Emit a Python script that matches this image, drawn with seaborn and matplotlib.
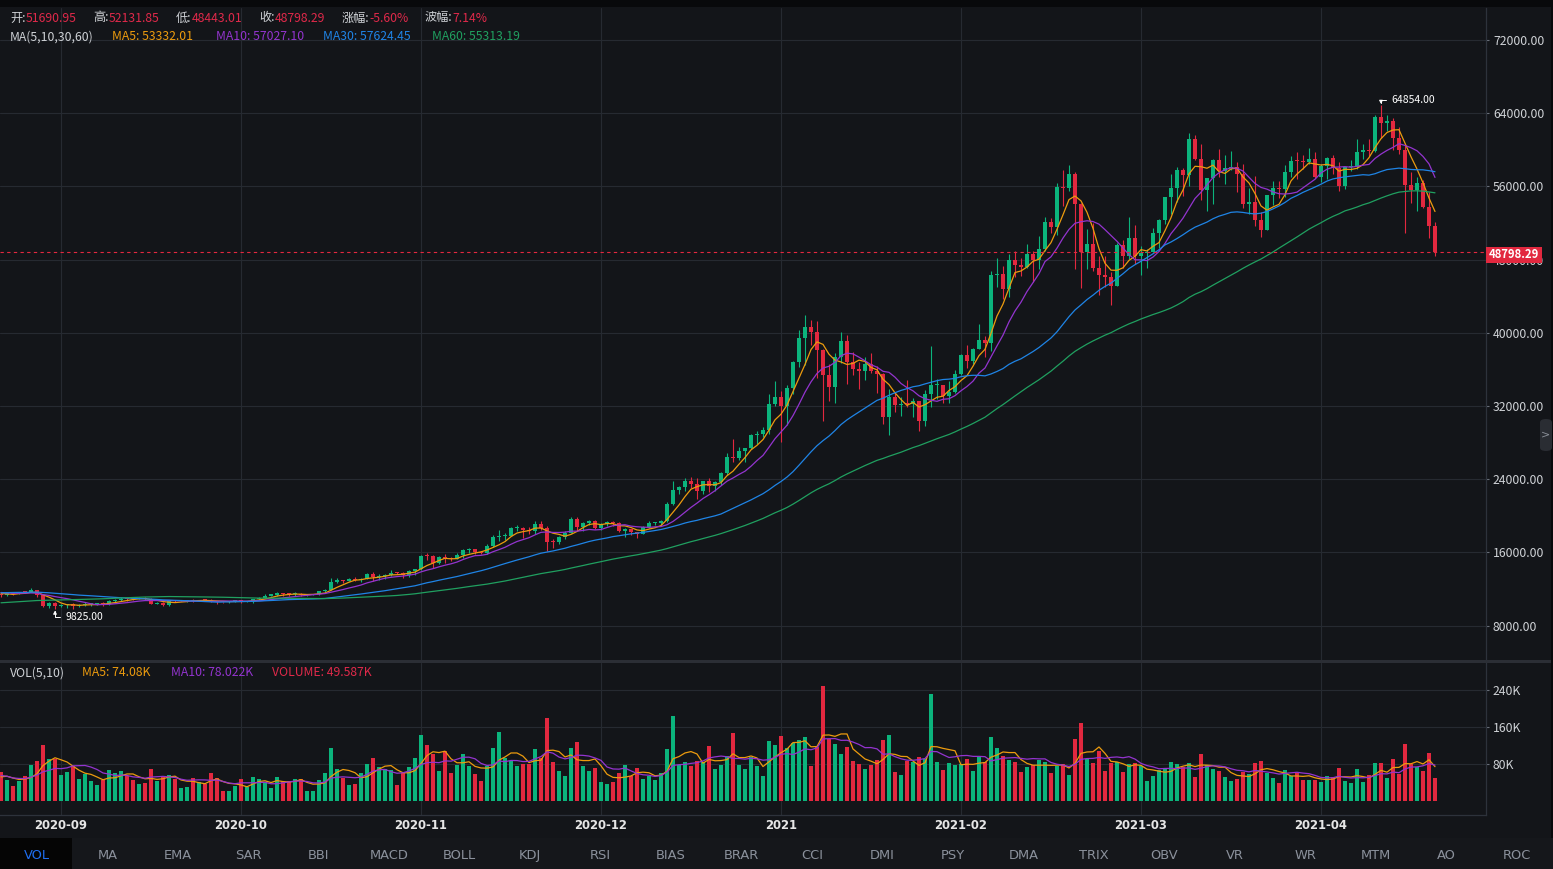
import numpy as np
import pandas as pd
import matplotlib
matplotlib.use("Agg")
import matplotlib.pyplot as plt
import seaborn as sns
from matplotlib import font_manager
from matplotlib.patches import Rectangle, FancyBboxPatch

# ---------------- data (daily candles 2020-08-27 .. 2021-04-23) ----------------
opens = [
    11467, 11323, 11530, 11470, 11706,
    11650, 11920, 11390, 10170, 10470, 10170, 10250, 10370, 10130, 10230, 10340, 10390, 10440, 10330, 10680,
    10790, 10950, 10940, 10930, 11080, 10920, 10420, 10530, 10240, 10740, 10690, 10730, 10770, 10700, 10840,
    10780, 10620, 10570, 10550, 10670, 10790, 10600, 10670, 10920, 11050, 11300, 11380, 11540, 11430, 11425, 11500,
    11320, 11370, 11500, 11750, 11910, 12820, 12980, 12930, 13120, 13030, 13070, 13650, 13280, 13460, 13560,
    13800, 13760, 13550, 14030, 14150, 15590, 15580, 14840, 15480, 15330, 15310, 15700, 16290, 16330, 16070,
    15960, 16720, 17660, 17800, 17820, 18660, 18700, 18420, 18370, 19160, 18720, 17150, 17140, 17720, 18180,
    19700, 18760, 19220, 19430, 18650, 19150, 19360, 19170, 18320, 18540, 18250, 18030, 18800, 19170, 19270, 19430,
    21340, 22800, 23140, 23850, 23470, 22720, 23820, 23240, 23730, 24690, 26490, 26280, 27040, 27370, 28890,
    28990, 29410, 32200, 33000, 31990, 33950, 36770, 39430, 40600, 40150, 38150, 35400, 34050, 37370, 39150, 36770,
    36010, 35820, 36630, 35890, 35470, 30850, 32940, 32080, 32260, 32250, 32510, 30400, 33370, 34270, 34290,
    33090, 33500, 35470, 37620, 36940, 38290, 39260, 38880, 46370, 46430, 44810, 47970, 47410, 47230,
    48590, 47930, 49130, 52120, 51550, 55910, 55840, 57410, 54090, 48890, 49680, 47070, 46280, 46110,
    45140, 49590, 48440, 50350, 48370, 48750, 48880, 50970, 52380, 54880, 55850, 57770, 57220, 61190, 59000, 55640,
    56920, 58920, 57650, 58030, 58100, 57350, 54080, 54340, 52300, 51300, 55030, 55840, 55780, 57630, 58790,
    58760, 58730, 58980, 57060, 58200, 59130, 57990, 56000, 58080, 58100, 59770, 59970, 59840, 63580, 62960,
    63160, 61330, 60000, 56150, 55630, 56430, 53790, 51690.95,
]
highs = [
    11590, 11595, 11583, 11720, 11770,
    12067, 11950, 11460, 10630, 10570, 10350, 10400, 10440, 10350, 10580, 10400, 10480, 10580, 10800, 10940,
    11100, 11050, 11040, 11180, 11090, 10990, 10580, 10560, 10790, 10760, 10770, 10800, 10950, 10860, 10860,
    10950, 10660, 10600, 10690, 10800, 10800, 10690, 10950, 11100, 11490, 11440, 11700, 11560, 11550, 11630, 11540,
    11400, 11500, 11820, 12030, 13220, 13190, 13030, 13170, 13350, 13250, 13790, 13860, 13640, 13690, 14100,
    13900, 13830, 14070, 14250, 15770, 15970, 15770, 15650, 15840, 15480, 15970, 16340, 16480, 16330, 16140,
    16880, 17860, 18480, 18180, 18820, 18960, 18750, 18770, 19420, 19480, 18920, 17460, 17850, 18340, 19860,
    19920, 19340, 19530, 19500, 19200, 19420, 19390, 19290, 18640, 18560, 18290, 18950, 19410, 19350, 19570, 21560,
    23800, 23280, 24170, 24300, 24100, 23840, 24100, 23770, 24790, 26870, 28420, 27500, 27400, 28990, 29300,
    29680, 33300, 34780, 33600, 34360, 36940, 40370, 41950, 41380, 41350, 38260, 36630, 37850, 40100, 39750, 37950,
    36850, 37400, 37850, 36420, 35600, 33830, 33460, 32940, 34880, 32920, 32560, 33780, 38530, 34930, 34350,
    34720, 35900, 37660, 38710, 38310, 40950, 39700, 46790, 48200, 47310, 48630, 48980, 48140, 49710,
    49000, 50620, 52620, 52530, 56370, 57770, 58350, 57530, 54180, 51370, 52040, 48390, 48390, 46640,
    49790, 50200, 52640, 51770, 49450, 49200, 51450, 52400, 54900, 57390, 58150, 58060, 61840, 61600, 60630, 56940,
    58980, 60100, 59450, 59880, 58640, 58430, 55840, 57200, 53240, 55100, 56640, 56560, 58400, 59370, 59800,
    59490, 60200, 59790, 58500, 59250, 59470, 58650, 58160, 58880, 61220, 60690, 61200, 63770, 64854, 63820,
    63520, 62500, 60500, 57530, 57060, 56760, 55410, 52131.85,
]
lows = [
    11135, 11283, 11404, 11457, 11570,
    11640, 11160, 10000, 9960, 9825, 10000, 9880, 9850, 10000, 10200, 10200, 10260, 10200, 10220, 10630,
    10670, 10740, 10820, 10890, 10810, 10370, 10360, 10140, 10200, 10600, 10650, 10620, 10630, 10650, 10680,
    10540, 10380, 10500, 10530, 10630, 10530, 10560, 10530, 10830, 11050, 11250, 11200, 11300, 11280, 11270, 11220,
    11300, 11350, 11400, 11690, 11900, 12700, 12720, 12880, 12890, 12780, 13050, 12900, 12990, 13110, 13420,
    13620, 13200, 13290, 13530, 14100, 15170, 14340, 14700, 14810, 15080, 15280, 15440, 15980, 15800, 15860,
    15870, 16560, 17220, 17350, 17760, 18320, 17610, 18000, 18020, 18500, 16190, 16500, 16880, 17520, 18180,
    18320, 18330, 18970, 18570, 18500, 18860, 18900, 18200, 17650, 17910, 17570, 18020, 18710, 19000, 19050, 19290,
    21230, 22350, 22750, 23060, 21820, 22350, 22600, 22700, 23430, 24500, 25860, 26100, 25880, 27320, 27850,
    28620, 28950, 32000, 28130, 29900, 33290, 36300, 36500, 38720, 35110, 30420, 32530, 32380, 36700, 34410, 35360,
    33850, 34800, 35600, 33400, 30070, 28850, 31390, 30900, 31910, 30840, 29240, 29840, 31920, 32830, 32300,
    32300, 33420, 35370, 36160, 36570, 38220, 37350, 37990, 45000, 43730, 43950, 46130, 46200, 47050,
    45570, 47000, 48950, 50900, 50710, 53860, 55480, 46930, 44890, 47000, 46800, 44110, 45000, 43000,
    45110, 47050, 48100, 47500, 46300, 47070, 48800, 49330, 51850, 53000, 54270, 54960, 56080, 58900, 54570, 53270,
    54120, 57000, 56270, 57820, 55450, 53650, 53000, 51700, 50430, 51230, 53960, 54690, 54900, 57020, 56770,
    57940, 58430, 56960, 56500, 56800, 57350, 55470, 55700, 57680, 57870, 59000, 59370, 59800, 61300, 62020,
    60000, 59580, 50930, 54220, 53330, 53600, 50400, 48443.01,
]
closes = [
    11323, 11530, 11470, 11706, 11650,
    11920, 11390, 10170, 10470, 10170, 10250, 10370, 10130, 10230, 10340, 10390, 10440, 10330, 10680, 10790,
    10950, 10940, 10930, 11080, 10920, 10420, 10530, 10240, 10740, 10690, 10730, 10770, 10700, 10840, 10780,
    10620, 10570, 10550, 10670, 10790, 10600, 10670, 10920, 11050, 11300, 11380, 11540, 11430, 11425, 11500, 11320,
    11370, 11500, 11750, 11910, 12820, 12980, 12930, 13120, 13030, 13070, 13650, 13280, 13460, 13560, 13800,
    13760, 13550, 14030, 14150, 15590, 15580, 14840, 15480, 15330, 15310, 15700, 16290, 16330, 16070, 15960,
    16720, 17660, 17800, 17820, 18660, 18700, 18420, 18370, 19160, 18720, 17150, 17140, 17720, 18180, 19700,
    18760, 19220, 19430, 18650, 19150, 19360, 19170, 18320, 18540, 18250, 18030, 18800, 19170, 19270, 19430, 21340,
    22800, 23140, 23850, 23470, 22720, 23820, 23240, 23730, 24690, 26490, 26280, 27040, 27370, 28890, 28990,
    29410, 32200, 33000, 31990, 33950, 36770, 39430, 40600, 40150, 38150, 35400, 34050, 37370, 39150, 36770, 36010,
    35820, 36630, 35890, 35470, 30850, 32940, 32080, 32260, 32250, 32510, 30400, 33370, 34270, 34290, 33090,
    33500, 35470, 37620, 36940, 38290, 39260, 38880, 46370, 46430, 44810, 47970, 47410, 47230, 48590,
    47930, 49130, 52120, 51550, 55910, 55840, 57410, 54090, 48890, 49680, 47070, 46280, 46110, 45140,
    49590, 48440, 50350, 48370, 48750, 48880, 50970, 52380, 54880, 55850, 57770, 57220, 61190, 59000, 55640, 56920,
    58920, 57650, 58030, 58100, 57350, 54080, 54340, 52300, 51300, 55030, 55840, 55780, 57630, 58790, 58760,
    58730, 58980, 57060, 58200, 59130, 57990, 56000, 58080, 58100, 59770, 59970, 59840, 63580, 62960, 63160,
    61330, 60000, 56150, 55630, 56430, 53790, 51690, 48798.29,
]
# volume in thousands
volumes = [
    62.7, 46.1, 33.2, 44.0, 54.8, 78.6, 87.2, 121.8, 91.5, 91.5,
    56.9, 63.4, 76.4, 48.3, 59.1, 44.0, 35.3, 46.1, 67.7, 61.3,
    65.6, 54.8, 46.1, 37.5, 39.6, 69.9, 44.0, 52.6, 56.9, 48.3,
    28.8, 31.0, 51.2, 41.8, 37.5, 61.3, 50.4, 22.3, 22.3, 33.2,
    48.3, 31.0, 52.6, 48.3, 41.8, 28.8, 52.6, 41.8, 44.0, 48.3,
    48.3, 22.3, 22.3, 46.1, 61.3, 115.3, 69.9, 51.2, 35.3, 37.5,
    61.3, 80.7, 93.7, 74.2, 69.9, 67.7, 35.3, 61.3, 74.2, 93.7,
    143.4, 121.8, 102.3, 65.6, 108.8, 61.3, 78.6, 102.3, 76.4, 59.1,
    44.0, 76.4, 115.3, 149.9, 93.7, 87.2, 76.4, 80.7, 80.7, 113.2,
    93.7, 180.2, 85.0, 65.6, 54.8, 115.3, 128.3, 76.4, 65.6, 72.1,
    41.8, 37.5, 41.8, 61.3, 78.6, 54.8, 72.1, 48.3, 54.8, 46.1,
    61.3, 113.2, 184.5, 78.6, 85.0, 76.4, 87.2, 85.0, 119.6, 69.9,
    78.6, 98.0, 147.7, 78.6, 69.9, 95.9, 76.4, 54.8, 130.4, 121.8,
    141.3, 115.3, 126.1, 132.6, 139.1, 76.4, 117.5, 249.4, 134.8, 124.0,
    102.3, 117.5, 87.2, 80.7, 69.9, 78.6, 89.4, 132.6, 143.4, 63.4,
    56.9, 87.2, 85.0, 95.9, 91.5, 232.1, 85.0, 67.7, 82.9, 78.6,
    80.7, 91.5, 65.6, 95.9, 85.0, 139.1, 115.3, 98.0, 89.4, 85.0,
    63.4, 74.2, 78.6, 89.4, 85.0, 61.3, 76.4, 80.7, 56.9, 134.8,
    169.4, 91.5, 82.9, 108.8, 65.6, 82.9, 85.0, 63.4, 80.7, 82.9,
    76.4, 44.0, 54.8, 67.7, 72.1, 85.0, 80.7, 74.2, 82.9, 52.6,
    102.3, 78.6, 69.9, 65.6, 52.6, 44.0, 48.3, 63.4, 59.1, 82.9,
    87.2, 61.3, 50.4, 39.6, 67.7, 54.8, 61.3, 46.1, 46.1, 46.1,
    41.8, 54.8, 52.0, 72.1, 44.0, 39.6, 69.9, 41.8, 56.9, 82.9,
    82.9, 50.4, 91.5, 59.1, 124.0, 80.7, 74.2, 65.6, 104.5, 49.587,
]
# closes / volumes of the days before the first visible candle (for the moving averages)
warmup_closes = [
    9190, 9138, 9232, 9086, 9058, 9135, 9069, 9344, 9253, 9428, 9277, 9278, 9240, 9276, 9240, 9256,
    9197, 9133, 9154, 9171, 9209, 9162, 9390, 9518, 9603, 9538, 9700, 9931, 11029, 10906, 11100,
    11099, 11335, 11801, 11071, 11219, 11191, 11744, 11762, 11594, 11761, 11681, 11892, 11392, 11564,
    11780, 11760, 11852, 11911, 12281, 11945, 11754, 11866, 11522, 11664, 11649, 11751, 11328, 11467,
]
warmup_volumes = [62, 70, 55, 58, 48, 40, 52, 60, 50]

month_labels = ["2020-09", "2020-10", "2020-11", "2020-12", "2021", "2021-02", "2021-03", "2021-04"]
price_ticks = [8000, 16000, 24000, 32000, 40000, 48000, 56000, 64000, 72000]
vol_ticks = [80, 160, 240]
vol_tick_labels = ["80K", "160K", "240K"]
high_label, high_idx, high_value = "64854.00", 230, 64854
low_label, low_idx, low_value = "9825.00", 9, 9825
last_price_label = "48798.29"
hdr_labels = ["开:", "高:", "低:", "收:", "涨幅:", "波幅:"]
hdr_values = ["51690.95", "52131.85", "48443.01", "48798.29", "-5.60%", "7.14%"]
ma_texts = ["MA(5,10,30,60)", "MA5: 53332.01", "MA10: 57027.10", "MA30: 57624.45", "MA60: 55313.19"]
vol_texts = ["VOL(5,10)", "MA5: 74.08K", "MA10: 78.022K", "VOLUME: 49.587K"]
tabs = ["VOL", "MA", "EMA", "SAR", "BBI", "MACD", "BOLL", "KDJ", "RSI", "BIAS", "BRAR",
        "CCI", "DMI", "PSY", "DMA", "TRIX", "OBV", "VR", "WR", "MTM", "AO", "ROC"]

# ---------------- style ----------------
W, H, DPI = 1553, 869, 100
BG = "#131519"
GRID = "#262a31"
AXLINE = "#2d323b"
GREEN = "#0bb47c"
RED = "#e2283f"
C_MA5, C_MA10, C_MA30, C_MA60 = "#ec9b0e", "#9334cf", "#1f84e6", "#20a060"
TXT = "#cfd2d6"

sns.set_theme(style="dark")
CJK = ["Noto Sans CJK SC", "DejaVu Sans"]
plt.rcParams["font.family"] = CJK
plt.rcParams["axes.unicode_minus"] = False


def has_font(name):
    try:
        font_manager.findfont(font_manager.FontProperties(family=name), fallback_to_default=False)
        return True
    except Exception:
        return False


NARROW = ["Liberation Sans Narrow"] if has_font("Liberation Sans Narrow") else ["DejaVu Sans"]

fig = plt.figure(figsize=(W / DPI, H / DPI), dpi=DPI, facecolor=BG)
renderer = fig.canvas.get_renderer()


def X(px):
    return px / W


def Y(py):
    return 1 - py / H


def fit(sample, target, family, weight="normal"):
    t = fig.text(0, 0, sample, fontsize=10, family=family, weight=weight)
    w = t.get_window_extent(renderer).width
    t.remove()
    return 10 * target / w


S_TXT = fit("51690.95", 51, CJK)
S_ANN = fit("64854.00", 43.5, CJK)
S_DATE = fit("2020-09", 48, NARROW)
S_TAB = fit("MACD", 39, NARROW)
S_LAST = fit("48798.29", 50, CJK, weight="bold")

# ---------------- axes ----------------
ax = fig.add_axes([0, Y(660), 1486 / W, (660 - 8) / H])
axv = fig.add_axes([0, Y(815), 1486 / W, (815 - 663) / H])

n = len(closes)
idx = np.arange(n)
df = pd.DataFrame({"idx": idx, "open": opens, "high": highs, "low": lows,
                   "close": closes, "vol": volumes})
col = np.where(df["close"] >= df["open"], GREEN, RED)

# candles
ax.vlines(df["idx"], df["low"], df["high"], colors=col, lw=0.8, zorder=3)
body = np.maximum((df["close"] - df["open"]).abs(), 110)
ax.bar(df["idx"], body, bottom=np.minimum(df["open"], df["close"]), width=0.68,
       color=col, linewidth=0, zorder=3)

# moving averages
allc = pd.Series(warmup_closes + closes, dtype=float)
k = len(warmup_closes)
ma = pd.DataFrame({"idx": idx})
for w_ in (5, 10, 30, 60):
    ma[f"MA{w_}"] = allc.rolling(w_).mean().iloc[k:].to_numpy()
ma_long = ma.melt("idx", var_name="line", value_name="price")
sns.lineplot(data=ma_long, x="idx", y="price", hue="line", estimator=None,
             palette={"MA5": C_MA5, "MA10": C_MA10, "MA30": C_MA30, "MA60": C_MA60},
             lw=0.9, ax=ax, legend=False, zorder=4)

# volume
axv.bar(df["idx"], df["vol"], width=0.68, color=col, linewidth=0, zorder=3)
allv = pd.Series(warmup_volumes + volumes, dtype=float)
kv = len(warmup_volumes)
vma = pd.DataFrame({"idx": idx})
for w_ in (5, 10):
    vma[f"MA{w_}"] = allv.rolling(w_).mean().iloc[kv:].to_numpy()
vma_long = vma.melt("idx", var_name="line", value_name="vol")
sns.lineplot(data=vma_long, x="idx", y="vol", hue="line", estimator=None,
             palette={"MA5": C_MA5, "MA10": C_MA10}, lw=0.9, ax=axv, legend=False, zorder=4)

tick_idx = list(range(10, n, 30))[:len(month_labels)]
for a in (ax, axv):
    a.set_facecolor(BG)
    for s in a.spines.values():
        s.set_visible(False)
    a.spines["right"].set_visible(True)
    a.spines["right"].set_color(AXLINE)
    a.spines["right"].set_linewidth(0.9)
    a.set_xlim(-1 / 6, 1486 / 6 - 1 / 6)
    a.set_xticks(tick_idx)
    a.tick_params(axis="x", length=0, labelbottom=False)
    a.yaxis.tick_right()
    a.tick_params(axis="y", direction="out", length=2.5, width=0.8, color="#6a707a",
                  labelcolor=TXT, labelsize=S_TXT, pad=2.5)
    a.grid(True, color=GRID, lw=0.8)
    a.set_axisbelow(True)
    a.set_xlabel("")
    a.set_ylabel("")

axv.spines["bottom"].set_visible(True)
axv.spines["bottom"].set_color(AXLINE)
axv.spines["bottom"].set_linewidth(0.9)

ax.set_ylim(4251, 75508)
ax.set_yticks(price_ticks)
ax.set_yticklabels([f"{v:.2f}" for v in price_ticks])
axv.set_ylim(-29.6, 299)
axv.set_yticks(vol_ticks)
axv.set_yticklabels(vol_tick_labels)

# last price dashed line + label
ax.axhline(closes[-1], color=RED, lw=0.8, ls=(0, (3, 3)), zorder=5)
fig.add_artist(Rectangle((X(1486), Y(262.7)), 56 / W, 15.4 / H, transform=fig.transFigure,
                         fc=RED, ec="none", zorder=20))
fig.text(X(1514), Y(255), last_price_label, color="white", fontsize=S_LAST, weight="bold",
         ha="center", va="center", zorder=21)

# high / low markers
arrow = dict(arrowstyle="-|>", color="white", lw=0.7, mutation_scale=5, relpos=(0, 0.5),
             shrinkA=1.5, shrinkB=1, connectionstyle="angle,angleA=0,angleB=90,rad=0")
ax.annotate(high_label, xy=(high_idx, high_value), xytext=(1391, H - 100), textcoords="figure pixels",
            color="white", fontsize=S_ANN, ha="left", va="center", arrowprops=arrow, zorder=6)
ax.annotate(low_label, xy=(low_idx, low_value), xytext=(65, H - 617), textcoords="figure pixels",
            color="white", fontsize=S_ANN, ha="left", va="center", arrowprops=arrow, zorder=6)

# ---------------- decorations ----------------
fig.add_artist(Rectangle((0, Y(7)), 1, 7 / H, transform=fig.transFigure, fc="#08090b", ec="none", zorder=15))
fig.add_artist(Rectangle((0, Y(662.5)), 1, 2.5 / H, transform=fig.transFigure, fc="#2b2e35", ec="none", zorder=15))
fig.add_artist(Rectangle((X(1551), 0), 2 / W, 1, transform=fig.transFigure, fc="#08090b", ec="none", zorder=15))
fig.add_artist(Rectangle((0, 0), 1, 31 / H, transform=fig.transFigure, fc="#15171b", ec="none", zorder=15))
fig.add_artist(Rectangle((0, 0), 72 / W, 31 / H, transform=fig.transFigure, fc="#050505", ec="none", zorder=16))
fig.add_artist(FancyBboxPatch((X(1540), Y(451)), 12 / W, 32 / H, boxstyle="round,pad=0,rounding_size=0.004",
                              transform=fig.transFigure, fc="#2a2d33", ec="none", zorder=16))
fig.text(X(1546), Y(434), ">", color="#8a8f98", fontsize=8, ha="center", va="center",
         family=["DejaVu Sans"], zorder=17)


def seq(x, y, parts, size):
    cx = x
    for s, c in parts:
        t = fig.text(X(cx), Y(y), s, color=c, fontsize=size, ha="left", va="center", zorder=18)
        cx += t.get_window_extent(renderer).width


HDR_GRAY = "#cfd2d6"
HDR_RED = "#e0294a"
for xp, lab, val in zip([10, 93, 176, 259, 342, 425], hdr_labels, hdr_values):
    seq(xp, 18, [(lab, HDR_GRAY), (val, HDR_RED)], S_TXT)
for xp, s, c in zip([10, 112, 216, 323, 432], ma_texts, [HDR_GRAY, C_MA5, C_MA10, C_MA30, C_MA60]):
    fig.text(X(xp), Y(37), s, color=c, fontsize=S_TXT, ha="left", va="center", zorder=18)
for xp, s, c in zip([10, 82, 171, 272], vol_texts, [HDR_GRAY, C_MA5, C_MA10, HDR_RED]):
    fig.text(X(xp), Y(673), s, color=c, fontsize=S_TXT, ha="left", va="center", zorder=18)

for ti, lab in zip(tick_idx, month_labels):
    fig.text(X(1 + 6 * ti), Y(829), lab, color="#e6e6e6", fontsize=S_DATE, family=NARROW,
             weight="bold", ha="center", va="baseline", zorder=18)

for j, lab in enumerate(tabs):
    fig.text(X(37 + 70.45 * j), Y(859), lab, color="#1f6ff2" if j == 0 else "#8b919c",
             fontsize=S_TAB, family=NARROW, ha="center", va="baseline", zorder=18)

fig.savefig("out.png", dpi=DPI, facecolor=BG)
